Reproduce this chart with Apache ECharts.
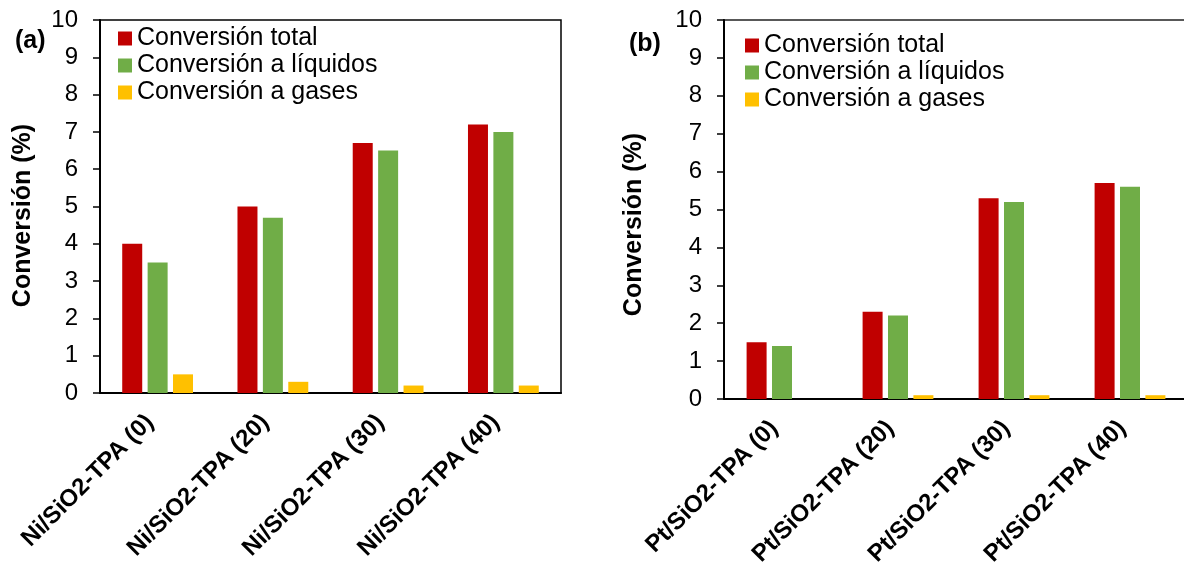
<!DOCTYPE html>
<html>
<head>
<meta charset="utf-8">
<script src="https://cdn.jsdelivr.net/npm/echarts@6/dist/echarts.min.js"></script>
<style>
html,body{margin:0;padding:0;background:#fff;}
#chart{width:1184px;height:563px;}
</style>
</head>
<body>
<div id="chart"></div>
<script>
// ---- Data ----
const categoriesA = ['Ni/SiO2-TPA (0)', 'Ni/SiO2-TPA (20)', 'Ni/SiO2-TPA (30)', 'Ni/SiO2-TPA (40)'];
const categoriesB = ['Pt/SiO2-TPA (0)', 'Pt/SiO2-TPA (20)', 'Pt/SiO2-TPA (30)', 'Pt/SiO2-TPA (40)'];
const seriesNames = ['Conversión total', 'Conversión a líquidos', 'Conversión a gases'];
const totalA = [4.0, 5.0, 6.7, 7.2];
const liquidsA = [3.5, 4.7, 6.5, 7.0];
const gasesA = [0.5, 0.3, 0.2, 0.2];
const totalB = [1.5, 2.3, 5.3, 5.7];
const liquidsB = [1.4, 2.2, 5.2, 5.6];
const gasesB = [0.0, 0.1, 0.1, 0.1];
const yAxisTitle = 'Conversión (%)';
const panelLabels = ['(a)', '(b)'];

// ---- Styles ----
const FONT = "'Liberation Sans', Arial, sans-serif";
const colors = ['#C00000', '#70AD47', '#FFC000'];

const chart = echarts.init(document.getElementById('chart'));

function xAxisFor(gridIndex, cats) {
  return {
    type: 'category', gridIndex: gridIndex, data: cats,
    axisLine: {show: true, lineStyle: {color: '#000', width: 2}},
    axisTick: {show: false},
    axisLabel: {rotate: 45, margin: 18, padding: [0, 11, 0, 0], fontFamily: FONT, fontWeight: 'bold', fontSize: 24, color: '#000', interval: 0}
  };
}
function yAxisFor(gridIndex, nameGap, shift) {
  return {
    type: 'value', gridIndex: gridIndex, min: 0, max: 10, interval: 1,
    name: yAxisTitle, nameLocation: 'middle', nameGap: nameGap, nameRotate: 90,
    nameTextStyle: {fontFamily: FONT, fontWeight: 'bold', fontSize: 25, color: '#000', padding: [0, shift, 0, 0]},
    axisLine: {show: true, lineStyle: {color: '#000', width: 2}},
    axisTick: {show: true, inside: false, length: 7, lineStyle: {color: '#000', width: 1.5}},
    axisLabel: {margin: 22, fontFamily: FONT, fontSize: 24, color: '#000'},
    splitLine: {show: false}
  };
}
function barSeries(name, data, idx, axisIdx) {
  return {
    name: name, type: 'bar', xAxisIndex: axisIdx, yAxisIndex: axisIdx,
    data: data, barWidth: 20, barGap: '27%',
    itemStyle: {color: colors[idx]},
    emphasis: {disabled: true}
  };
}
function legendFor(left, top) {
  return {
    orient: 'vertical', left: left, top: top,
    icon: 'rect', itemWidth: 14, itemHeight: 14, itemGap: 2,
    textStyle: {fontFamily: FONT, fontSize: 25, color: '#000', lineHeight: 25},
    data: seriesNames
  };
}

const option = {
  animation: false,
  color: colors,
  title: [
    {text: panelLabels[0], left: 10, top: 24, textStyle: {fontFamily: FONT, fontWeight: 'bold', fontSize: 25, color: '#000'}},
    {text: panelLabels[1], left: 624, top: 27, textStyle: {fontFamily: FONT, fontWeight: 'bold', fontSize: 25, color: '#000'}}
  ],
  legend: [legendFor(113, 21), legendFor(740, 28)],
  grid: [
    {left: 100, top: 20, width: 461, height: 373, show: true, borderColor: '#000', borderWidth: 1.5, containLabel: false, outerBoundsMode: 'none'},
    {left: 724, top: 20, width: 464, height: 379, show: true, borderColor: '#222', borderWidth: 1.5, containLabel: false, outerBoundsMode: 'none'}
  ],
  xAxis: [xAxisFor(0, categoriesA), xAxisFor(1, categoriesB)],
  yAxis: [yAxisFor(0, 64, 18), yAxisFor(1, 77, 30)],
  series: [
    barSeries(seriesNames[0], totalA, 0, 0),
    barSeries(seriesNames[1], liquidsA, 1, 0),
    barSeries(seriesNames[2], gasesA, 2, 0),
    barSeries(seriesNames[0], totalB, 0, 1),
    barSeries(seriesNames[1], liquidsB, 1, 1),
    barSeries(seriesNames[2], gasesB, 2, 1)
  ]
};
chart.setOption(option);
</script>
</body>
</html>
